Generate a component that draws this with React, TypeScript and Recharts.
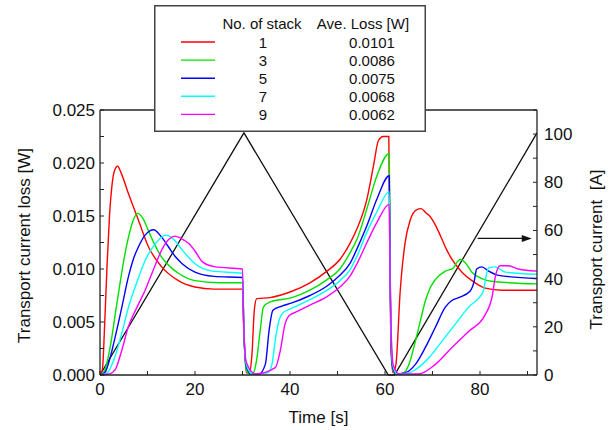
import React from 'react';
import { LineChart, Line, XAxis, YAxis, ReferenceLine, Legend, Label } from 'recharts';

const FONT = 'Arial, "Liberation Sans", Helvetica, sans-serif';

// legend table
const stacks = [1, 3, 5, 7, 9];
const aveLoss = ['0.0101', '0.0086', '0.0075', '0.0068', '0.0062'];
const colors = ['#ff0000', '#00e000', '#0000ff', '#00ffff', '#ff00ff'];

// ticks (odd ones are unlabelled minor ticks)
const timeTicks = [0, 10, 20, 30, 40, 50, 60, 70, 80, 90];
const lossTicks = [0, 0.0025, 0.005, 0.0075, 0.01, 0.0125, 0.015, 0.0175, 0.02, 0.0225, 0.025];
const currentTicks = [0, 10, 20, 30, 40, 50, 60, 70, 80, 90, 100, 110];

// [time s, loss W]
const loss1: [number, number][] = [
  [0, 0], [0.5, 0.0005], [1, 0.005], [1.5, 0.0105], [2, 0.015], [2.5, 0.0178], [3, 0.0192],
  [3.7, 0.0197], [4.5, 0.019], [6, 0.0171], [8.1, 0.0146], [10.2, 0.0121], [13, 0.0102],
  [16.5, 0.0089], [20, 0.0083], [24, 0.0081], [30, 0.0081], [30.3, 0.004], [30.8, 0.0002],
  [31.5, 0.0003], [32, 0.002], [32.5, 0.0062], [33, 0.0072], [35.8, 0.0073], [40.4, 0.0079],
  [44.2, 0.0087], [47.8, 0.0098], [50.5, 0.0109], [52.6, 0.0124], [54.1, 0.0138], [56.2, 0.0166],
  [57.6, 0.0198], [58.6, 0.0221], [59.6, 0.0225], [60.8, 0.0225], [61, 0.012], [61.3, 0.002],
  [61.7, 0.0002], [62.3, 0.001], [63.2, 0.0079], [64.2, 0.0124], [65.3, 0.0146], [66.7, 0.0156],
  [67.6, 0.0157], [68.6, 0.0153], [69.4, 0.015], [70.3, 0.0144], [71.2, 0.0136], [72, 0.0128],
  [73, 0.0118], [74.1, 0.0109], [76.2, 0.0097], [78.3, 0.0089], [81.1, 0.0082], [84.6, 0.008],
  [92, 0.008],
];
const loss3: [number, number][] = [
  [0, 0], [0.7, 0.0002], [1.5, 0.0012], [2.5, 0.0036], [3.3, 0.006], [4.2, 0.0086], [5, 0.0108],
  [6, 0.013], [7, 0.0146], [7.9, 0.01525], [9, 0.0148], [10.2, 0.0136], [11.5, 0.0123],
  [13, 0.0111], [14.8, 0.0102], [16.5, 0.0096], [20, 0.0089], [25, 0.0087], [30, 0.0087],
  [30.3, 0.004], [30.8, 0.0005], [31.5, 0.0001], [32.3, 0.0002], [33, 0.0015], [33.7, 0.0041],
  [34.4, 0.0064], [35.8, 0.0069], [40.4, 0.0073], [44.2, 0.008], [47.8, 0.009], [50.5, 0.01],
  [52.6, 0.0115], [54.1, 0.0128], [56.2, 0.0157], [58.3, 0.0188], [60.9, 0.0209], [61.1, 0.01],
  [61.5, 0.001], [62, 0.0002], [63, 0.0001], [64.2, 0.0003], [65.2, 0.0012], [66.4, 0.0032],
  [67.5, 0.0052], [68.5, 0.007], [69.5, 0.0082], [70.6, 0.009], [72.7, 0.0098], [74.4, 0.0101],
  [75.1, 0.0106], [75.8, 0.0109], [76.9, 0.0106], [78.3, 0.0097], [80.4, 0.0091], [83.2, 0.0088],
  [92, 0.0086],
];
const loss5: [number, number][] = [
  [0, 0], [1, 0.0002], [1.8, 0.0011], [3.2, 0.0036], [4.5, 0.0062], [6, 0.0093], [7, 0.0109],
  [8.1, 0.0121], [9.5, 0.0132], [11.3, 0.0137], [12.8, 0.0131], [14.4, 0.0121], [15.8, 0.0112],
  [17.3, 0.0105], [20, 0.0097], [24, 0.0093], [30, 0.0092], [30.3, 0.004], [30.8, 0.0008],
  [31.8, 0.0001], [33.5, 0.0001], [34.8, 0.001], [35.6, 0.0042], [36.4, 0.0061], [38.3, 0.0065],
  [40.4, 0.0068], [44.2, 0.0075], [47.8, 0.0084], [50.5, 0.0094], [52.6, 0.0105], [54.1, 0.0119],
  [56.2, 0.0141], [58.3, 0.0166], [60.9, 0.0188], [61.1, 0.009], [61.5, 0.001], [62.3, 0.0001],
  [64.2, 0.0002], [66.4, 0.001], [68.5, 0.0026], [70.6, 0.0045], [72.7, 0.0064], [74, 0.007],
  [75.5, 0.0073], [77.9, 0.0079], [78.8, 0.0089], [79.3, 0.01], [80.4, 0.0102], [81.8, 0.0098],
  [83.9, 0.0094], [92, 0.0091],
];
const loss7: [number, number][] = [
  [0, 0], [1.5, 0.0002], [3.2, 0.0018], [4.5, 0.0038], [6, 0.0064], [7.8, 0.0088], [9.5, 0.0108],
  [11.5, 0.0123], [13.9, 0.0132], [15.5, 0.0128], [17.3, 0.0118], [20, 0.0105], [23.6, 0.0098],
  [30, 0.0096], [30.3, 0.004], [30.8, 0.001], [32, 0.0001], [35.3, 0.0002], [36.2, 0.001],
  [37, 0.0036], [37.8, 0.0053], [38.6, 0.0059], [40.4, 0.0063], [44.2, 0.0071], [47.8, 0.008],
  [50.5, 0.0089], [52.6, 0.0099], [54.1, 0.0112], [56.2, 0.0135], [58.3, 0.0154], [60.9, 0.0173],
  [61.1, 0.008], [61.6, 0.001], [62.5, 0.0001], [65, 0.0002], [66.4, 0.0005], [69.2, 0.0016],
  [72, 0.0032], [74.8, 0.0048], [77.6, 0.0064], [80.7, 0.0079], [81.1, 0.0089], [81.8, 0.0101],
  [83.2, 0.0102], [85.3, 0.0097], [92, 0.0095],
];
const loss9: [number, number][] = [
  [0, 0], [2, 0.0001], [3.2, 0.0005], [4.5, 0.0022], [6, 0.0046], [7.8, 0.0064], [9.5, 0.008],
  [11.3, 0.01], [13, 0.0118], [14.5, 0.0128], [15.8, 0.0131], [17, 0.0129], [18.7, 0.0124],
  [20, 0.0117], [21.5, 0.0107], [24.3, 0.0102], [30, 0.01], [30.3, 0.004], [30.8, 0.0012],
  [32.7, 0.0001], [36.9, 0.0007], [38, 0.0024], [38.9, 0.0047], [39.8, 0.0056], [41.1, 0.0059],
  [44.2, 0.0066], [47.8, 0.0074], [50.5, 0.0083], [52.6, 0.0093], [54.1, 0.0105], [56.2, 0.0125],
  [58.3, 0.0144], [60.9, 0.0161], [61.1, 0.008], [61.7, 0.001], [63, 0.0001], [67.1, 0.0001],
  [70.6, 0.001], [74.1, 0.0026], [77.6, 0.0041], [81.1, 0.0057], [82.6, 0.0075], [83.2, 0.0092],
  [84.2, 0.0103], [86, 0.0103], [88.1, 0.01], [92, 0.0098],
];

// [time s, current A]
const current: [number, number][] = [[0, 0], [30.3, 100.5], [60.7, 0], [62, 0], [92, 100.5]];
const arrow = { from: 79.5, to: 90.9, level: 56.7 };

const lossSeries = [loss1, loss3, loss5, loss7, loss9];
const toPts = (arr: [number, number][]) => arr.map(([t, v]) => ({ t, v }));

const tickStyle = { fontSize: 17, fill: '#111', fontFamily: FONT };

const LegendBox = () => (
  <svg width={272} height={127} style={{ display: 'block' }}>
    <rect x={0.75} y={0.75} width={270.5} height={125.5} fill="#fff" stroke="#444" strokeWidth={1.5} />
    <g fontFamily={FONT} fontSize={15} fill="#111" textAnchor="middle" dominantBaseline="central">
      <text x={108} y={18}>No. of stack</text>
      <text x={209} y={18}>Ave. Loss [W]</text>
      {stacks.map((s, i) => (
        <g key={s}>
          <line x1={27} x2={61} y1={37 + i * 18.1} y2={37 + i * 18.1} stroke={colors[i]} strokeWidth={1.4} />
          <text x={109} y={37 + i * 18.1}>{s}</text>
          <text x={218} y={37 + i * 18.1}>{aveLoss[i]}</text>
        </g>
      ))}
    </g>
  </svg>
);

const ArrowShape = (p: any) => (
  <g>
    <line x1={p.x1} y1={p.y1} x2={p.x2 - 6} y2={p.y2} stroke="#111" strokeWidth={1.3} />
    <polygon points={`${p.x2},${p.y2} ${p.x2 - 10},${p.y2 - 3.5} ${p.x2 - 10},${p.y2 + 3.5}`} fill="#111" />
  </g>
);

const vTitle = (text: string, dx: number, dy: number) => (props: any) => {
  const vb = props.viewBox;
  const x = vb.x + dx;
  const y = vb.y + vb.height / 2 + dy;
  return (
    <text x={x} y={y} transform={`rotate(-90, ${x}, ${y})`} textAnchor="middle" dominantBaseline="central"
      fontFamily={FONT} fontSize={17} fill="#111" style={{ whiteSpace: 'pre' }}>{text}</text>
  );
};

const xTitle = (props: any) => {
  const vb = props.viewBox;
  return (
    <text x={vb.x + vb.width / 2} y={vb.y + 48} textAnchor="middle" fontFamily={FONT} fontSize={17} fill="#111">
      Time [s]
    </text>
  );
};

export default function App() {
  return (
    <div style={{ position: 'absolute', left: 0, top: 0, background: '#fff' }}>
      <LineChart width={611} height={430} margin={{ top: 110, right: 0, bottom: 0, left: 0 }}>
        <XAxis dataKey="t" type="number" domain={[0, 92]} ticks={timeTicks} allowDataOverflow
          height={55} tickSize={-4} tickMargin={12} tick={tickStyle}
          tickFormatter={(v: number, i: number) => (i % 2 === 0 ? String(v) : '')}
          axisLine={{ stroke: '#222', strokeWidth: 1.3 }} tickLine={{ stroke: '#222' }}>
          <Label content={xTitle} />
        </XAxis>
        <YAxis yAxisId="left" type="number" domain={[0, 0.025]} ticks={lossTicks} width={100}
          tickSize={-4} tickMargin={9} tick={tickStyle}
          tickFormatter={(v: number, i: number) => (i % 2 === 0 ? v.toFixed(3) : '')}
          axisLine={{ stroke: '#222', strokeWidth: 1.3 }} tickLine={{ stroke: '#222' }}>
          <Label content={vTitle('Transport current loss [W]', 24, 3)} />
        </YAxis>
        <YAxis yAxisId="right" orientation="right" type="number" domain={[0, 110]} ticks={currentTicks}
          width={74} tickSize={-4} tickMargin={11} tick={tickStyle}
          tickFormatter={(v: number, i: number) => (i % 2 === 0 && v <= 100 ? String(v) : '')}
          axisLine={{ stroke: '#222', strokeWidth: 1.3 }} tickLine={{ stroke: '#222' }}>
          <Label content={vTitle('Transport current  [A]', 59, 7)} />
        </YAxis>
        <ReferenceLine yAxisId="left" y={0.025} stroke="#222" strokeWidth={1.3} />
        <Line yAxisId="right" data={current.map(([t, a]) => ({ t, a }))} dataKey="a" type="linear"
          stroke="#111" strokeWidth={1.3} dot={false} isAnimationActive={false} />
        {lossSeries.map((s, i) => (
          <Line key={stacks[i]} yAxisId="left" data={toPts(s)} dataKey="v" name={String(stacks[i])}
            type="monotone" stroke={colors[i]} strokeWidth={1.4} dot={false} isAnimationActive={false} />
        ))}
        <ReferenceLine yAxisId="right" segment={[{ x: arrow.from, y: arrow.level }, { x: arrow.to, y: arrow.level }]}
          shape={ArrowShape} />
        <Legend content={LegendBox} layout="horizontal" verticalAlign="middle" align="center"
          wrapperStyle={{ position: 'absolute', left: 154, top: 5, width: 272, height: 127, margin: 0 }} />
      </LineChart>
    </div>
  );
}
